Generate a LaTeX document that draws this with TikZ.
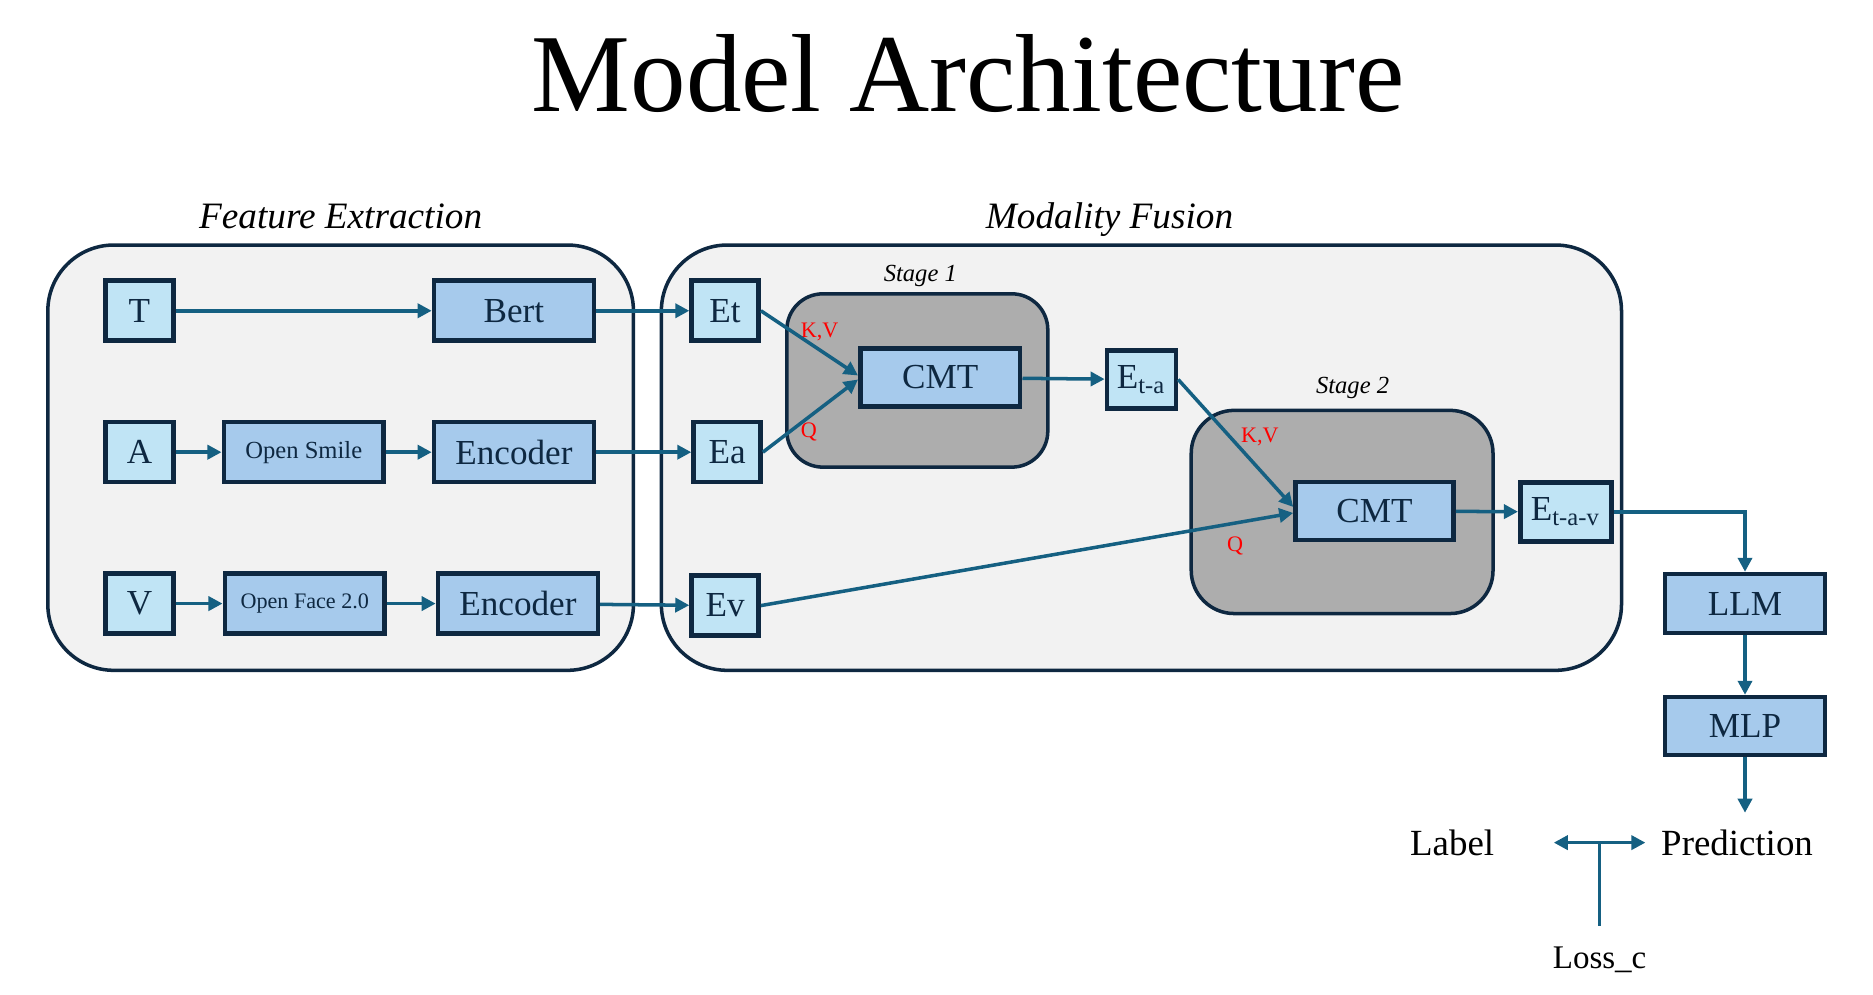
\documentclass[tikz,border=0pt]{standalone}
\usepackage{fontspec}
\setmainfont{Liberation Serif}
\usetikzlibrary{arrows.meta,positioning}

\definecolor{boxlight}{RGB}{192,228,245}
\definecolor{boxmid}{RGB}{166,202,236}
\definecolor{boxline}{RGB}{14,40,65}
\definecolor{flow}{RGB}{21,96,130}
\definecolor{stagegray}{RGB}{173,173,173}
\definecolor{panel}{RGB}{242,242,242}

\tikzset{
  inbox/.style={rectangle, draw=boxline, fill=boxlight, line width=1.3pt, inner sep=0pt, text=boxline, font=\fontsize{10}{12}\selectfont},
  procbox/.style={inbox, fill=boxmid},
  panelbox/.style={draw=boxline, fill=panel, line width=1pt},
  stagebox/.style={draw=boxline, fill=stagegray, line width=1pt},
  flowarrow/.style={draw=flow, line width=1pt, -{Triangle[length=4pt,width=4pt]}},
  kvlabel/.style={text=red, inner sep=0pt, font=\fontsize{6.3}{7}\selectfont},
  headline/.style={inner sep=0pt, anchor=base, font=\fontsize{10.6}{12}\selectfont\itshape},
}

\begin{document}
\begin{tikzpicture}[x=0.00996cm, y=-0.00996cm]
    %  \draw[help lines] (0, 0) grid[step=100] (1873, 994);
      \useasboundingbox (0, 0) rectangle (1880.5, 998);

      \node [inner sep=0pt, anchor=base, font=\fontsize{31.6}{38}\selectfont] (title) at (972, 112) {Model Architecture};

      \node [headline] (fehead) at (342, 229) {Feature Extraction};
      \node [headline] (mfhead) at (1114, 229) {Modality Fusion};

      \draw [panelbox, rounded corners=0.66cm] (48, 246) rectangle (636, 673);
      \draw [panelbox, rounded corners=0.66cm] (664, 246) rectangle (1628, 673);

      \draw [stagebox, rounded corners=0.36cm] (790, 295) rectangle (1052, 469);
      \draw [stagebox, rounded corners=0.43cm] (1196, 412) rectangle (1499, 616);
      \node [inner sep=0pt, anchor=base, font=\fontsize{7}{8}\selectfont\itshape] (stagea) at (924, 283) {Stage 1};
      \node [inner sep=0pt, anchor=base, font=\fontsize{7}{8}\selectfont\itshape] (stageb) at (1358, 395) {Stage 2};

      % feature extraction
      \node [inbox, minimum width=0.68cm, minimum height=0.6cm] (t) at (140, 312) {T};
      \node [inbox, minimum width=0.68cm, minimum height=0.6cm] (a) at (140, 454) {A};
      \node [inbox, minimum width=0.68cm, minimum height=0.6cm] (v) at (140, 606) {V};

      \node [procbox, minimum width=1.6cm, minimum height=0.6cm] (bert) at (516, 312) {Bert};
      \node [procbox, minimum width=1.6cm, minimum height=0.6cm, font=\fontsize{7}{8}\selectfont] (smile) at (305, 454) {Open Smile};
      \node [procbox, minimum width=1.6cm, minimum height=0.6cm] (enca) at (516, 454) {Encoder};
      \node [procbox, minimum width=1.6cm, minimum height=0.6cm, font=\fontsize{6.3}{7}\selectfont] (face) at (306, 606) {Open Face 2.0};
      \node [procbox, minimum width=1.6cm, minimum height=0.6cm] (encv) at (520, 606) {Encoder};

      % modality fusion
      \node [inbox, minimum width=0.67cm, minimum height=0.6cm] (et) at (728, 312) {Et};
      \node [inbox, minimum width=0.67cm, minimum height=0.6cm] (ea) at (730, 454) {Ea};
      \node [inbox, minimum width=0.67cm, minimum height=0.6cm] (ev) at (728, 608) {Ev};

      \node [procbox, minimum width=1.6cm, minimum height=0.58cm] (cmta) at (944, 379) {CMT};
      \node [inbox, minimum width=0.69cm, minimum height=0.58cm] (eta) at (1146, 381) {E\textsubscript{t-a}};
      \node [procbox, minimum width=1.58cm, minimum height=0.58cm] (cmtb) at (1380, 513) {CMT};
      \node [inbox, minimum width=0.91cm, minimum height=0.59cm] (etav) at (1572, 514) {E\textsubscript{t-a-v}};

      \node [kvlabel] (kva) at (823, 333) {K,V};
      \node [kvlabel] (qa) at (812, 434) {Q};
      \node [kvlabel] (kvb) at (1265, 439) {K,V};
      \node [kvlabel] (qb) at (1240, 548) {Q};

      % output
      \node [procbox, minimum width=1.6cm, minimum height=0.59cm] (llm) at (1752, 606) {LLM};
      \node [procbox, minimum width=1.6cm, minimum height=0.58cm] (mlp) at (1752, 729) {MLP};

      \node [inner sep=0pt, anchor=base, font=\fontsize{10.5}{12}\selectfont] (lbl) at (1458, 859) {Label};
      \node [inner sep=0pt, anchor=base, font=\fontsize{10.5}{12}\selectfont] (pred) at (1744, 859) {Prediction};
      \node [inner sep=0pt, anchor=base, font=\fontsize{9.4}{11}\selectfont] (loss) at (1606, 972) {Loss\_c};

      \coordinate (predtop) at (1752, 816);
      \coordinate (lossleft) at (1560, 846);
      \coordinate (lossright) at (1652, 846);
      \coordinate (lossmid) at (1606, 846);
      \coordinate (lossfoot) at (1606, 930);

      \draw[flowarrow] (t) -- (bert);
      \draw[flowarrow] (a) -- (smile);
      \draw[flowarrow] (smile) -- (enca);
      \draw[flowarrow] (v) -- (face);
      \draw[flowarrow] (face) -- (encv);

      \draw[flowarrow] (bert) -- (et);
      \draw[flowarrow] (enca) -- (ea);
      \draw[flowarrow] (encv) -- (ev);

      \draw[flowarrow] (et.east) -- ([yshift=0.02cm]cmta.west);
      \draw[flowarrow] (ea.east) -- ([yshift=-0.02cm]cmta.west);
      \draw[flowarrow] (cmta) -- (eta);
      \draw[flowarrow] (eta.east) -- ([yshift=0.04cm]cmtb.west);
      \draw[flowarrow] (ev.east) -- ([yshift=-0.02cm]cmtb.west);
      \draw[flowarrow] (cmtb) -- (etav);

      \draw[flowarrow] (etav.east) -| (llm.north);
      \draw[flowarrow] (llm) -- (mlp);
      \draw[flowarrow] (mlp) -- (predtop);

      \draw[draw=flow, line width=1pt, {Triangle[length=4pt,width=4pt]}-{Triangle[length=4pt,width=4pt]}] (lossleft) -- (lossright);
      \draw[draw=flow, line width=1pt] (lossmid) -- (lossfoot);
    \end{tikzpicture}
\end{document}
